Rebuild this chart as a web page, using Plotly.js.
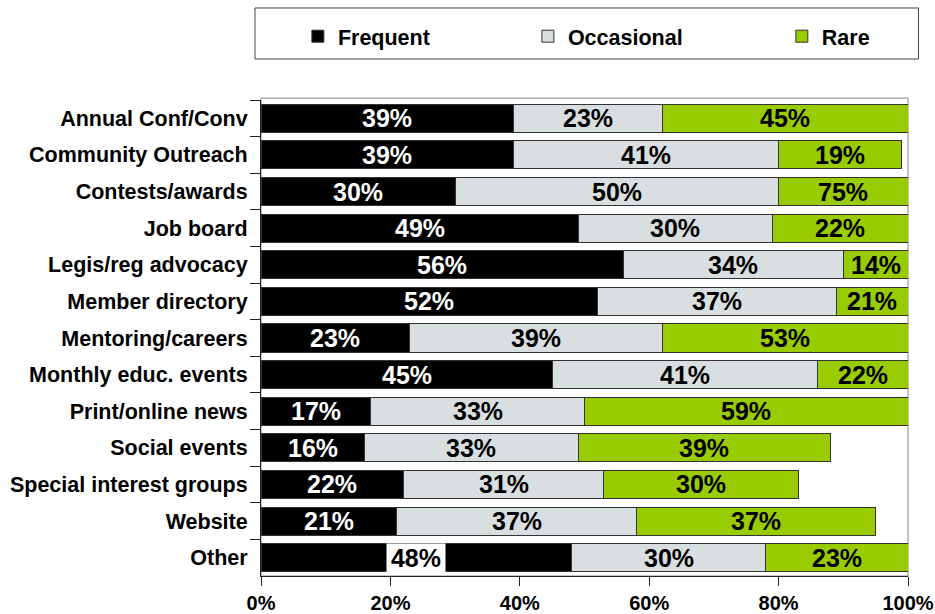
<!DOCTYPE html>
<html>
<head>
<meta charset="utf-8">
<script src="https://cdn.plot.ly/plotly-3.0.1.min.js"></script>
<style>html,body{margin:0;padding:0;background:#fff;}#chart{width:935px;height:614px;}</style>
</head>
<body>
<div id="chart"></div>
<script>
const categories = ["Annual Conf/Conv","Community Outreach","Contests/awards","Job board","Legis/reg advocacy","Member directory","Mentoring/careers","Monthly educ. events","Print/online news","Social events","Special interest groups","Website","Other"];
const frequent   = [39,39,30,49,56,52,23,45,17,16,22,21,48];
const occasional = [23,41,50,30,34,37,39,41,33,33,31,37,30];
const rare       = [45,19,75,22,14,21,53,22,59,39,30,37,23];
const seriesNames = ["Frequent","Occasional","Rare"];
const xTicks = [0,20,40,60,80,100];

const FONT = "Liberation Sans, Arial, sans-serif";
const colors = ["#000000","#d9dfe1","#99cc00"];
const series = [frequent, occasional, rare];
const legendIds = ["legend","legend2","legend3"];

const traces = series.map((vals, s) => ({
  type: "bar",
  orientation: "h",
  name: seriesNames[s],
  y: categories,
  x: vals,
  marker: {color: colors[s], line: {color: "#333333", width: 1}},
  legend: legendIds[s],
  hoverinfo: "skip"
}));

const XMAX = 100;
const annotations = [];
categories.forEach((cat, i) => {
  let start = 0;
  series.forEach((vals, s) => {
    const v = vals[i];
    const a = Math.min(start, XMAX), b = Math.min(start + v, XMAX);
    const special = (s === 0 && cat === "Other");
    annotations.push({
      x: (a + b) / 2, y: cat, xref: "x", yref: "y",
      text: v + "%", showarrow: false,
      font: {family: FONT, size: 25, weight: 700, color: (s === 0 && !special) ? "#ffffff" : "#000000"},
      bgcolor: special ? "#ffffff" : "rgba(0,0,0,0)",
      width: special ? 58 : undefined,
      height: special ? 28 : undefined,
      borderpad: 0
    });
    start += v;
  });
});

const legendY = 1.134;
const mkLegend = (x) => ({
  x: x, y: legendY, xanchor: "left", yanchor: "middle",
  orientation: "h", bgcolor: "rgba(0,0,0,0)", borderwidth: 0,
  font: {family: FONT, size: 21.5, weight: 700, color: "#000"}
});

const layout = {
  width: 935, height: 614,
  margin: {l: 261, r: 27, t: 100, b: 38},
  paper_bgcolor: "#ffffff", plot_bgcolor: "#ffffff",
  barmode: "stack", bargap: 0.235,
  showlegend: true,
  legend: mkLegend(0.057),
  legend2: mkLegend(0.4125),
  legend3: mkLegend(0.805),
  xaxis: {
    range: [0, XMAX], tickvals: xTicks, ticktext: xTicks.map(t => t + "%"),
    showgrid: false, zeroline: false, showline: true, linecolor: "#222", linewidth: 1,
    ticks: "outside", ticklen: 9, tickcolor: "#222",
    tickfont: {family: FONT, size: 20, weight: 700, color: "#000"},
    automargin: false, fixedrange: true
  },
  yaxis: {
    type: "category", autorange: "reversed",
    showgrid: false, zeroline: false, showline: true, linecolor: "#222", linewidth: 1,
    ticks: "outside", ticklen: 10, tickcolor: "#222", tickson: "boundaries",
    ticklabelstandoff: 8,
    tickfont: {family: FONT, size: 21.5, weight: 700, color: "#000"},
    automargin: false, fixedrange: true
  },
  shapes: [
    {type: "rect", xref: "paper", yref: "paper", x0: 0, x1: 1, y0: 0, y1: 1.004,
     line: {color: "#8a8a8a", width: 1}, layer: "below"},
    {type: "rect", xref: "paper", yref: "paper", x0: -0.0093, x1: 1.0162, y0: 1.0861, y1: 1.1933,
     line: {color: "#444", width: 1}, fillcolor: "rgba(0,0,0,0)"}
  ],
  annotations: annotations
};

Plotly.newPlot("chart", traces, layout, {displayModeBar: false, staticPlot: true});
</script>
</body>
</html>
